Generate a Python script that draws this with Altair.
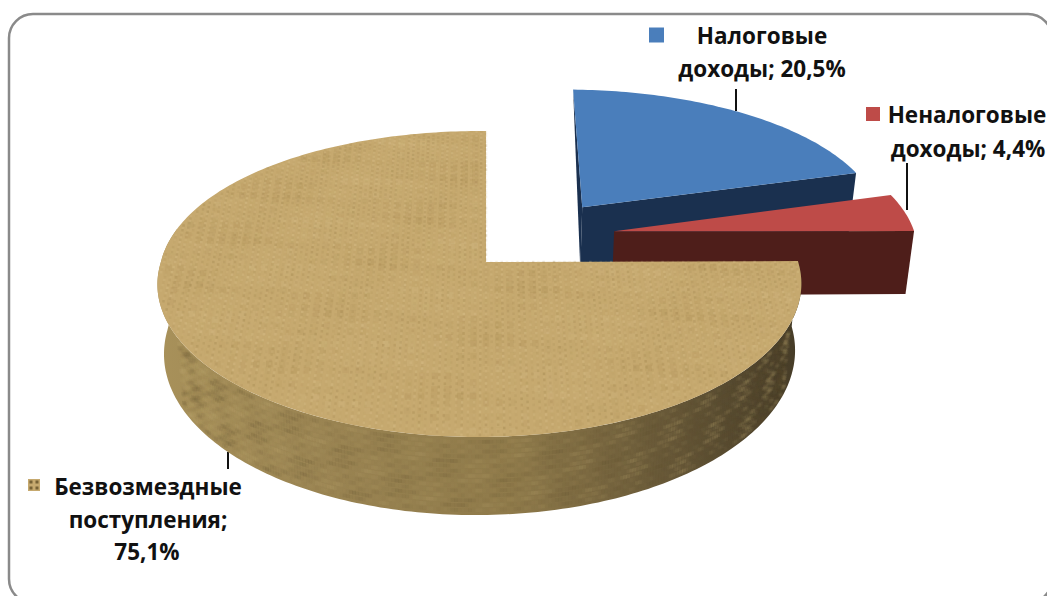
import math
import altair as alt
import pandas as pd

# Revenue structure, percent of total
categories = ["Налоговые доходы", "Неналоговые доходы", "Безвозмездные поступления"]
shares = [20.5, 4.4, 75.1]
top_colors = ["#4a7ebb", "#be4b48", "#c6a96f"]
wall_colors = ["#1a304f", "#4e1e1a", "#8a7647"]

W, H = 1047, 596
CX, CY = 486.0, 262.0
AX, BY = 318.5, 149.8
K_V, K_U = 0.1438, 0.0203
K_BACK = 0.11
DEPTH = 66.8
SHRINK = 0.98
EXPLODE = [(0.317, -0.388), (0.415, -0.213), (0.0, 0.0)]


def project(u, v):
    """Perspective view of a point on the pie's top face."""
    wy = 1 - K_V * v + K_U * u
    wx = 1 - (K_BACK if v < 0 else K_V) * v + K_U * u
    return CX + AX * u / wx, CY + BY * v / wy


def project_low(u, v):
    """Same point on the pie's bottom face."""
    x, y = project(u, v)
    w = 1 - K_V * v + K_U * u
    return CX + (x - CX) * SHRINK, y + DEPTH / w


def disk(deg, off):
    a = math.radians(deg)
    return off[0] + math.sin(a), off[1] - math.cos(a)


def sweep(a0, a1, step=1.0):
    n = max(2, int(abs(a1 - a0) / step) + 1)
    return [a0 + (a1 - a0) * i / (n - 1) for i in range(n)]


# Slice boundaries in degrees, clockwise from twelve o'clock
edges = [0.0]
for s in shares:
    edges.append(edges[-1] + s * 3.6)

x_scale = alt.Scale(domain=[0, W], range=[0, W], nice=False, zero=False)
y_scale = alt.Scale(domain=[0, H], range=[0, H], nice=False, zero=False)
X = alt.X("x:Q", scale=x_scale, axis=None)
Y = alt.Y("y:Q", scale=y_scale, axis=None)


def polygon(points, fill):
    df = pd.DataFrame({"x": [p[0] for p in points], "y": [p[1] for p in points], "i": range(len(points))})
    return alt.Chart(df).mark_line(
        interpolate="linear-closed", fill=fill, stroke=None, strokeWidth=0
    ).encode(x=X, y=Y, order="i:Q")


def top_face(k):
    off = EXPLODE[k]
    pts = [project(*off)]
    pts += [project(*disk(a, off)) for a in sweep(edges[k], edges[k + 1])]
    return polygon(pts, top_colors[k])


def radial_wall(k, deg):
    off = EXPLODE[k]
    e = disk(deg, off)
    return polygon([project(*off), project(*e), project_low(*e), project_low(*off)], wall_colors[k])


def back_sliver(k, deg):
    off = EXPLODE[k]
    return polygon([project(*disk(deg, off)), project(*off), project_low(*off)], wall_colors[k])


def rim_wall(k, a0, a1, fill):
    off = EXPLODE[k]
    angles = sweep(a0, a1)
    pts = [project(*disk(a, off)) for a in angles]
    pts += [project_low(*disk(a, off)) for a in reversed(angles)]
    return polygon(pts, fill)


tan_wall_fill = alt.Gradient(
    gradient="linear", x1=0, x2=1, y1=0, y2=0,
    stops=[
        alt.GradientStop(offset=0.0, color="#a8915a"),
        alt.GradientStop(offset=0.25, color="#9a8452"),
        alt.GradientStop(offset=0.55, color="#8f7a4a"),
        alt.GradientStop(offset=0.8, color="#665737"),
        alt.GradientStop(offset=1.0, color="#453b27"),
    ],
)


def mottle(i, j):
    """Irregular but repeatable surface variation for lattice cell (i, j)."""
    return (
        math.sin(i * 0.41 + j * 0.17)
        + math.sin(j * 0.63 - i * 0.23)
        + math.sin((i + 2.3 * j) * 1.37)
        + math.sin((3.1 * i - j) * 2.11)
    )


def inside_top(u, v, limit):
    return u * u + v * v <= limit and not (u > 0.004 and v < 0)


def speckles(rows, size):
    return alt.Chart(pd.DataFrame(rows)).mark_point(
        filled=True, shape="square", size=size, strokeWidth=0
    ).encode(
        x=X, y=Y,
        color=alt.Color("c:N", scale=None),
        opacity=alt.Opacity("o:Q", scale=None),
    )


def woven_top():
    """Fine burlap weave over the large slice's top face."""
    rows = []
    step = 0.0165
    n = int(1 / step) + 1
    for i in range(-n, n + 1):
        for j in range(-n, n + 1):
            u, v = i * step, j * step
            if not inside_top(u, v, 0.985):
                continue
            x, y = project(u, v)
            m = mottle(i, j)
            light = (i + j) % 2 == 0
            rows.append({
                "x": x, "y": y,
                "c": "#dcc38f" if light else "#a0854e",
                "o": min(0.4, max(0.03, 0.15 + (0.06 * m if light else -0.06 * m))),
            })
    return speckles(rows, 6)


def blotches_top():
    """Larger soft patches on the top face."""
    rows = []
    step = 0.036
    n = int(1 / step) + 1
    for i in range(-n, n + 1):
        for j in range(-n, n + 1):
            u, v = i * step, j * step
            if not inside_top(u, v, 0.95) or (u > -0.03 and v < 0.03):
                continue
            x, y = project(u, v)
            m = mottle(i + 7, j - 3)
            rows.append({
                "x": x, "y": y,
                "c": "#a5874d" if m < 0 else "#d8c08b",
                "o": min(0.28, 0.07 * abs(m)),
            })
    return speckles(rows, 42)


def woven_wall():
    """Mottling over the large slice's outer wall."""
    rows = []
    off = EXPLODE[2]
    for i, a in enumerate(sweep(edges[2] + 24, 242, 0.55)):
        x0, y0 = project(*disk(a, off))
        x1, y1 = project_low(*disk(a, off))
        for j in range(1, 16):
            t = j / 16
            m = mottle(i, j)
            rows.append({
                "x": x0 + (x1 - x0) * t, "y": y0 + (y1 - y0) * t,
                "c": "#5c4c2b" if m < 0 else "#bda76f",
                "o": min(0.28, 0.06 * abs(m)),
            })
    return speckles(rows, 14)


# Chart frame
frame_df = pd.DataFrame({"x": [9], "x2": [1052], "y": [14], "y2": [603]})
frame = alt.Chart(frame_df).mark_rect(
    fill="#ffffff", stroke="#8a8a8a", strokeWidth=2.5, cornerRadius=24
).encode(x=X, x2="x2:Q", y=Y, y2="y2:Q")

# Leader lines from labels to slices
leaders_df = pd.DataFrame({
    "x": [736, 907, 228],
    "y": [89, 163, 452],
    "y2": [111, 210, 469],
})
leaders = alt.Chart(leaders_df).mark_rule(color="#111111", strokeWidth=2).encode(x=X, y=Y, y2="y2:Q")

# Legend keys beside the labels
keys_df = pd.DataFrame({
    "x": [656.5, 873, 34],
    "y": [35, 114, 485],
    "c": [top_colors[0], top_colors[1], top_colors[2]],
    "s": [225, 196, 144],
})
keys = alt.Chart(keys_df).mark_point(filled=True, shape="square", strokeWidth=0, opacity=1).encode(
    x=X, y=Y, color=alt.Color("c:N", scale=None), size=alt.Size("s:Q", scale=None)
)
key_spots_df = pd.DataFrame({"x": [31, 37, 31, 37], "y": [482, 482, 488, 488]})
key_spots = alt.Chart(key_spots_df).mark_point(
    filled=True, shape="square", size=9, strokeWidth=0, color="#6e5a30", opacity=0.9
).encode(x=X, y=Y)

# Data labels
label_lines = [
    "Налоговые", "доходы; 20,5%",
    "Неналоговые", "доходы; 4,4%",
    "Безвозмездные", "поступления;", "75,1%",
]
label_x = [762, 762, 967, 968, 148, 148, 147]
label_y = [44, 77, 123, 157, 495, 528, 560]
labels_df = pd.DataFrame({"x": label_x, "y": label_y, "t": label_lines})
labels = alt.Chart(labels_df).mark_text(
    font="Open Sans", fontWeight="bold", fontSize=22.5, color="#111111",
    align="center", baseline="alphabetic",
).encode(x=X, y=Y, text="t:N")

layers = [
    frame,
    leaders,
    back_sliver(0, edges[0]),
    radial_wall(0, edges[1]),
    top_face(0),
    radial_wall(1, edges[2]),
    top_face(1),
    rim_wall(2, edges[2], 283, tan_wall_fill),
    woven_wall(),
    top_face(2),
    blotches_top(),
    woven_top(),
    keys,
    key_spots,
    labels,
]

chart = alt.layer(*layers).properties(
    width=W, height=H,
    background="#ffffff",
    padding=0,
    autosize=alt.AutoSizeParams(type="none"),
).configure_view(stroke=None)

chart.save("out.html", embed_options={"renderer": "svg", "actions": False})
